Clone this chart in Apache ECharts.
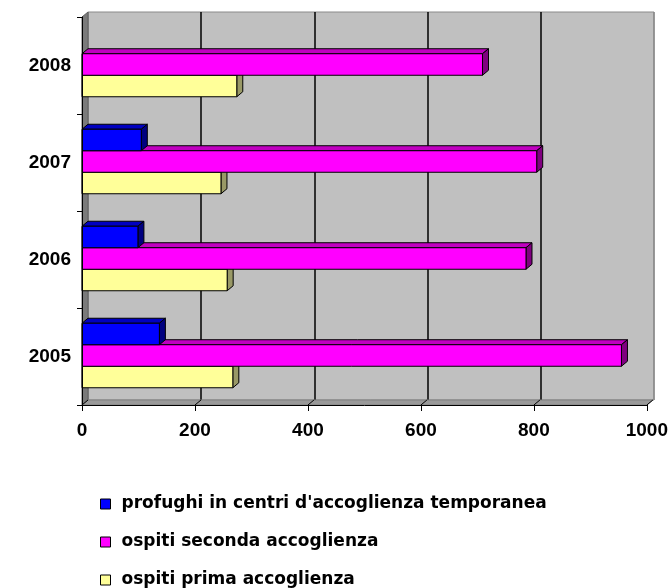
<!DOCTYPE html>
<html>
<head>
<meta charset="utf-8">
<script src="https://cdn.jsdelivr.net/npm/echarts@6/dist/echarts.min.js"></script>
<style>html,body{margin:0;padding:0;background:#fff}#c{width:671px;height:588px}</style>
</head>
<body>
<div id="c"></div>
<script>
// ---- data ----
var categories = ['2005', '2006', '2007', '2008'];
var seriesNames = ["profughi in centri d'accoglienza temporanea", 'ospiti seconda accoglienza', 'ospiti prima accoglienza'];
var profughi = [137, 99, 105, null];
var seconda = [955, 786, 805, 709];
var prima = [267, 257, 246, 274];
var xTicks = [0, 200, 400, 600, 800, 1000];

// ---- styles ----
var DX = 6, DY = 5;
var FRONT = { left: 82, top: 17, width: 566, height: 388 };
var faceColors = [
  { front: '#0000FF', top: '#0000C0', side: '#000080' },
  { front: '#FF00FF', top: '#C000C0', side: '#800080' },
  { front: '#FFFF99', top: '#CCCC7A', side: '#999966' }
];
var GROUP_FRACTION = 0.665;

function barRenderer(k) {
  return function (params, api) {
    var ci = api.value(0), v = api.value(1);
    if (v == null || isNaN(v)) return null;
    var c0 = api.coord([0, ci]);
    var c1 = api.coord([v, ci]);
    var band = api.size([0, 1])[1];
    var h = band * GROUP_FRACTION / 3;
    var y = c0[1] - 1.5 * h + k * h - 1;
    var x0 = c0[0], x1 = c1[0];
    var col = faceColors[k];
    var st = { stroke: '#000', lineWidth: 1, lineJoin: 'miter' };
    return {
      type: 'group',
      children: [
        { type: 'polygon', shape: { points: [[x0, y], [x1, y], [x1 + DX, y - DY], [x0 + DX, y - DY]] },
          style: Object.assign({ fill: col.top }, st) },
        { type: 'polygon', shape: { points: [[x1, y], [x1 + DX, y - DY], [x1 + DX, y + h - DY], [x1, y + h]] },
          style: Object.assign({ fill: col.side }, st) },
        { type: 'rect', shape: { x: x0, y: y, width: x1 - x0, height: h },
          style: Object.assign({ fill: col.front }, st) }
      ]
    };
  };
}

function toData(arr) {
  return arr.map(function (v, i) { return [i, v == null ? '-' : v]; });
}

function wallsRenderer(params, api) {
  var cs = params.coordSys;
  var x = cs.x, y = cs.y, w = cs.width, h = cs.height;
  var t = api.value(0);
  var tx = api.coord([t, 0])[0];
  var children = [];
  if (params.dataIndex === 0) {
    children.push({ type: 'polygon', shape: { points: [[x, y], [x + DX, y - DY], [x + DX, y + h - DY], [x, y + h]] },
      style: { fill: '#7a7a7a', stroke: '#606060', lineWidth: 1 } });
    children.push({ type: 'polygon', shape: { points: [[x, y + h], [x + DX, y + h - DY], [x + w + DX, y + h - DY], [x + w, y + h]] },
      style: { fill: '#999999', stroke: '#808080', lineWidth: 1 } });
  }
  children.push({ type: 'line', shape: { x1: tx, y1: y + h, x2: tx + DX, y2: y + h - DY },
    style: { stroke: '#000', lineWidth: 1 } });
  return { type: 'group', children: children };
}

var chart = echarts.init(document.getElementById('c'), null, { renderer: 'canvas' });
var axisFont = { color: '#000', fontFamily: 'Liberation Sans, Arial, sans-serif', fontWeight: 'bold', fontSize: 19 };
chart.setOption({
  animation: false,
  backgroundColor: '#fff',
  grid: [
    { left: FRONT.left, top: FRONT.top, width: FRONT.width, height: FRONT.height, containLabel: false },
    { left: FRONT.left + DX, top: FRONT.top - DY, width: FRONT.width, height: FRONT.height, containLabel: false,
      show: true, backgroundColor: '#C0C0C0', borderColor: '#8a8a8a', borderWidth: 1 }
  ],
  xAxis: [
    { gridIndex: 0, type: 'value', min: 0, max: 1000, interval: 200, z: 10,
      axisLine: { show: true, lineStyle: { color: '#000', width: 1 } },
      axisTick: { show: true, length: 6, lineStyle: { color: '#000' } },
      axisLabel: Object.assign({ margin: 16, formatter: function (v) { return String(v); } }, axisFont),
      splitLine: { show: false } },
    { gridIndex: 1, type: 'value', min: 0, max: 1000, interval: 200,
      axisLine: { show: false }, axisTick: { show: false }, axisLabel: { show: false },
      splitLine: { show: true, lineStyle: { color: ['#8a8a8a', '#000', '#000', '#000', '#000', '#8a8a8a'], width: 1.5 } } }
  ],
  yAxis: [
    { gridIndex: 0, type: 'category', data: categories, z: 10,
      axisLine: { show: true, lineStyle: { color: '#000', width: 1 } },
      axisTick: { show: true, length: 5, lineStyle: { color: '#000' } },
      axisLabel: Object.assign({ margin: 11 }, axisFont),
      splitLine: { show: false } },
    { gridIndex: 1, type: 'category', data: categories, show: false }
  ],
  legend: {
    orient: 'vertical', left: 100, top: 495, height: 120, padding: 0,
    itemWidth: 10, itemHeight: 10, itemGap: 20,
    textStyle: { color: '#000', fontFamily: 'DejaVu Sans, sans-serif', fontWeight: 'bold', fontSize: 17, lineHeight: 18,
      padding: [0, 0, 0, 6] },
    data: seriesNames.map(function (n, i) {
      return { name: n, icon: 'rect', itemStyle: { color: faceColors[i].front, borderColor: '#000', borderWidth: 1 } };
    })
  },
  series: [
    { type: 'custom', name: 'walls', xAxisIndex: 0, yAxisIndex: 0, z: 1, silent: true, clip: false,
      renderItem: wallsRenderer, data: xTicks.map(function (t) { return [t]; }), encode: { x: 0 } },
    { type: 'custom', name: seriesNames[2], xAxisIndex: 0, yAxisIndex: 0, z: 3, clip: false,
      itemStyle: { color: faceColors[2].front },
      renderItem: barRenderer(2), data: toData(prima), encode: { y: 0, x: 1 } },
    { type: 'custom', name: seriesNames[1], xAxisIndex: 0, yAxisIndex: 0, z: 4, clip: false,
      itemStyle: { color: faceColors[1].front },
      renderItem: barRenderer(1), data: toData(seconda), encode: { y: 0, x: 1 } },
    { type: 'custom', name: seriesNames[0], xAxisIndex: 0, yAxisIndex: 0, z: 5, clip: false,
      itemStyle: { color: faceColors[0].front },
      renderItem: barRenderer(0), data: toData(profughi), encode: { y: 0, x: 1 } }
  ]
});
</script>
</body>
</html>
